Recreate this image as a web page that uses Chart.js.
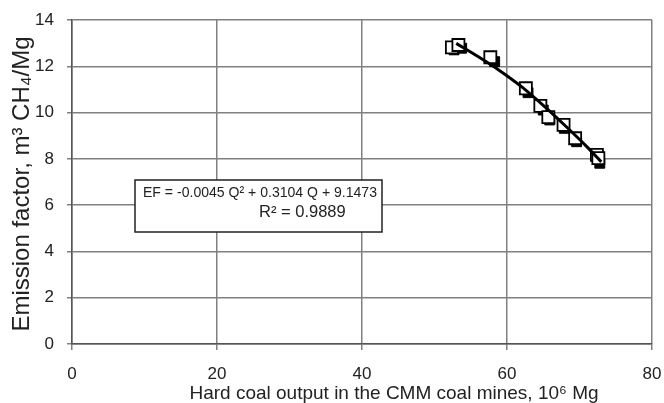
<!DOCTYPE html>
<html>
<head>
<meta charset="utf-8">
<script src="https://cdn.jsdelivr.net/npm/chart.js@4"></script>
<style>
  body { margin: 0; background: #fff; }
  #wrap { width: 664px; height: 403px; }
</style>
</head>
<body>
<div id="wrap"><canvas id="myChart" width="664" height="403"></canvas></div>
<script>
// values
var coalOutput = [52.4, 53.3, 57.7, 62.6, 64.6, 65.7, 67.8, 69.4, 72.4, 72.6];
var emissionFactor = [12.82, 12.92, 12.39, 11.05, 10.29, 9.80, 9.47, 8.89, 8.17, 8.03];
// black squares behind the open ones
var calcOutput = [52.7, 53.75, 58.3, 62.9, 65.0, 65.9, 67.9, 69.6, 72.8];
var calcFactor = [12.71, 12.78, 12.2, 10.86, 10.11, 9.68, 9.32, 8.74, 7.81];
// trend line
var trendX = [53, 56, 59, 62, 65, 68, 71, 73];
var trendY = [12.99, 12.42, 11.81, 11.12, 10.31, 9.44, 8.53, 7.87];

var xTicks = [0, 20, 40, 60, 80];
var yTicks = [0, 2, 4, 6, 8, 10, 12, 14];

var xTitle = 'Hard coal output in the CMM coal mines, 10\u2076 Mg';
var yTitle = 'Emission factor, m\u00B3 CH\u2084/Mg';
var eqLine1 = 'EF = -0.0045 Q\u00B2 + 0.3104 Q + 9.1473';
var eqLine2 = 'R\u00B2 = 0.9889';

function pts(xs, ys){
    var out = [];
    for(let i = 0; i < xs.length; i++){
        out.push({x: xs[i], y: ys[i]});
    }
    return out;
}

// text box with the equation + axis titles
var extraText = {
    id: 'extraText',
    afterDatasetsDraw: function(chart){
        var ctx = chart.ctx;
        ctx.save();
        ctx.fillStyle = '#fff';
        ctx.fillRect(135, 180, 247, 52);
        ctx.strokeStyle = '#222';
        ctx.lineWidth = 1.5;
        ctx.strokeRect(135, 180, 247, 52);
        ctx.fillStyle = '#222';
        ctx.textBaseline = 'alphabetic';
        ctx.textAlign = 'left';
        ctx.font = '15.5px "Liberation Sans", Arial, sans-serif';
        ctx.fillText(eqLine1, 143, 197, 234);
        ctx.font = '16.5px "Liberation Sans", Arial, sans-serif';
        ctx.fillText(eqLine2, 259, 217);

        // axis titles
        ctx.textAlign = 'center';
        ctx.font = '19px "Liberation Sans", Arial, sans-serif';
        ctx.fillText(xTitle, 394, 399);
        ctx.translate(22, 184);
        ctx.rotate(-Math.PI / 2);
        ctx.textBaseline = 'middle';
        ctx.font = '24px "Liberation Sans", Arial, sans-serif';
        ctx.fillText(yTitle, 0, 0);
        ctx.restore();
    }
};

new Chart("myChart", {
    type: "scatter",
    data: {
        datasets: [{
            label: 'trend',
            data: pts(trendX, trendY),
            showLine: true,
            borderColor: '#000',
            borderWidth: 3,
            pointRadius: 0,
            tension: 0.3,
            order: 0
        }, {
            label: 'measured',
            data: pts(coalOutput, emissionFactor),
            pointStyle: 'rect',
            pointRadius: 8.5,
            pointBackgroundColor: '#fff',
            pointBorderColor: '#000',
            pointBorderWidth: 1.8,
            order: 1
        }, {
            label: 'calc',
            data: pts(calcOutput, calcFactor),
            pointStyle: 'rect',
            pointRadius: 7,
            pointBackgroundColor: '#000',
            pointBorderColor: '#000',
            pointBorderWidth: 1,
            order: 2
        }]
    },
    plugins: [extraText],
    options: {
        responsive: false,
        animation: false,
        layout: { padding: { left: 4, right: 12, top: 20, bottom: 4 } },
        plugins: {
            legend: { display: false },
            tooltip: { enabled: false }
        },
        scales: {
            x: {
                type: 'linear',
                min: 0, max: 80,
                afterBuildTicks: function(s){ s.ticks = xTicks.map(v => ({value: v})); },
                afterFit: function(s){ s.height = 55; s.paddingLeft = 0; s.paddingRight = 0; },
                grid: { color: '#808080', lineWidth: 1.5, tickLength: 6 },
                border: { color: '#555', width: 1.5 },
                ticks: { color: '#222', font: { family: 'Liberation Sans', size: 17 }, padding: 14 }
            },
            y: {
                type: 'linear',
                min: 0, max: 14,
                afterBuildTicks: function(s){ s.ticks = yTicks.map(v => ({value: v})); },
                afterFit: function(s){ s.width = 68; s.paddingTop = 0; s.paddingBottom = 0; },
                grid: { color: '#808080', lineWidth: 1.5, tickLength: 5 },
                border: { color: '#555', width: 1.5 },
                ticks: { color: '#222', font: { family: 'Liberation Sans', size: 17 }, padding: 13 }
            }
        }
    }
});
</script>
</body>
</html>
